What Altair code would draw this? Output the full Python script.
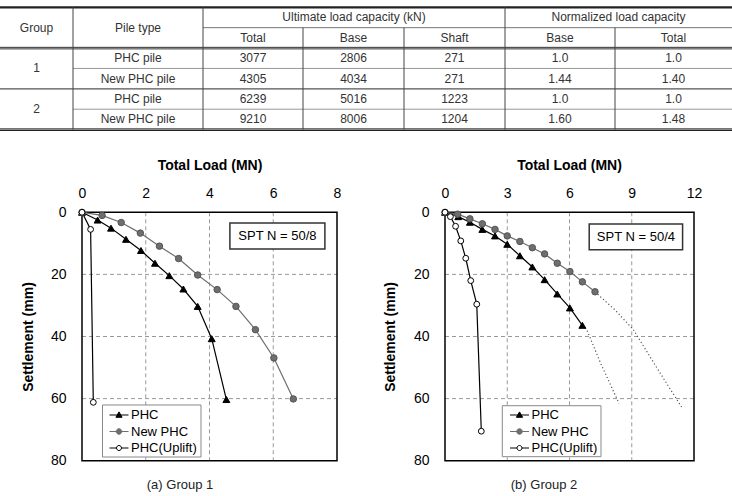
import altair as alt
import pandas as pd

FONT = "Liberation Sans"

# ---------------- table values ----------------
tbl_groups = ["1", "2"]
tbl_pile = ["PHC pile", "New PHC pile", "PHC pile", "New PHC pile"]
tbl_total = [3077, 4305, 6239, 9210]
tbl_base = [2806, 4034, 5016, 8006]
tbl_shaft = [271, 271, 1223, 1204]
tbl_nbase = ["1.0", "1.44", "1.0", "1.60"]
tbl_ntotal = ["1.0", "1.40", "1.0", "1.48"]
tbl_head = ["Group", "Pile type", "Ultimate load capacity (kN)", "Normalized load capacity"]
tbl_sub = ["Total", "Base", "Shaft", "Base", "Total"]

# ---------------- curve values (load MN, settlement mm) ----------------
series_names = ["PHC", "New PHC", "PHC(Uplift)"]

a_phc_load = [0, 0.49, 0.91, 1.38, 1.85, 2.29, 2.74, 3.18, 3.63, 4.07, 4.53]
a_phc_settle = [0, 2.5, 5.1, 8.7, 12.3, 16.4, 20.4, 24.7, 30.3, 40.7, 60.3]
a_new_load = [0, 0.63, 1.23, 1.83, 2.43, 3.03, 3.63, 4.24, 4.83, 5.44, 6.02, 6.63]
a_new_settle = [0, 1.0, 3.3, 6.7, 10.9, 14.9, 20.2, 24.9, 30.3, 37.8, 46.9, 60.1]
a_up_load = [0, 0.27, 0.355]
a_up_settle = [0, 5.5, 61.2]

b_phc_load = [0, 0.64, 1.2, 1.8, 2.41, 3.0, 3.61, 4.21, 4.8, 5.41, 6.02, 6.62]
b_phc_settle = [0, 1.4, 3.2, 5.5, 7.6, 10.3, 14.0, 17.6, 21.7, 26.3, 30.8, 36.4]
b_new_load = [0, 0.61, 1.2, 1.8, 2.41, 3.0, 3.61, 4.21, 4.8, 5.41, 6.02, 6.62, 7.23]
b_new_settle = [0, 0.6, 2.1, 3.7, 5.5, 7.6, 9.4, 11.4, 13.4, 16.4, 19.1, 22.4, 25.6]
b_up_load = [0, 0.26, 0.51, 0.76, 1.0, 1.24, 1.53, 1.75]
b_up_settle = [0, 1.4, 4.5, 9.2, 14.8, 22.0, 29.6, 70.5]
b_phc_ext_load = [6.62, 6.83, 7.5, 8.39]
b_phc_ext_settle = [36.4, 37.8, 48.6, 61.6]
b_new_ext_load = [7.23, 8.2, 9.08, 10.2, 11.4]
b_new_ext_settle = [25.6, 31.5, 37.8, 50.0, 62.7]

a_ticks = [0, 2, 4, 6, 8]
b_ticks = [0, 3, 6, 9, 12]
y_ticks = [0, 20, 40, 60, 80]
a_label = "SPT N = 50/8"
b_label = "SPT N = 50/4"
a_caption = "(a) Group 1"
b_caption = "(b) Group 2"

# ---------------- layout (pixels / positions) ----------------
COL = [0, 73, 203, 303, 404, 505, 615, 732]
T_SCALE_X = alt.Scale(domain=[0, 732], range=[0, 732], nice=False, zero=False)
T_SCALE_Y = alt.Scale(domain=[0, 6], range=[7.3, 129.6], nice=False, zero=False)
PLOT_Y = [212.3, 460.7]
A_X = [82, 337]
B_X = [445, 694]
LEG_ROWS_Y = [408.5, 425.0, 441.5]

GRAY = "#6e6e6e"

# ---------------- table ----------------
def mid(i, j):
    return (COL[i] + COL[j]) / 2

cells = []
cells.append((mid(0, 1), 1.0, tbl_head[0]))
cells.append((mid(1, 2), 1.0, tbl_head[1]))
cells.append((mid(2, 5), 0.5, tbl_head[2]))
cells.append((mid(5, 7), 0.5, tbl_head[3]))
for k, s in enumerate(tbl_sub):
    cells.append((mid(2 + k, 3 + k), 1.5, s))
for g, lab in enumerate(tbl_groups):
    cells.append((mid(0, 1), 3 + 2 * g, lab))
for r in range(4):
    row = [tbl_pile[r], str(tbl_total[r]), str(tbl_base[r]), str(tbl_shaft[r]),
           tbl_nbase[r], tbl_ntotal[r]]
    for c, v in enumerate(row):
        cells.append((mid(1 + c, 2 + c), 2.5 + r, v))
cell_df = pd.DataFrame(cells, columns=["cx", "cy", "txt"])

rules = [
    (0, 732, 0, 0, 2.2, "#222"),
    (203, 732, 1, 1, 1, "#777"),
    (0, 732, 1.965, 1.965, 1, "#333"),
    (0, 732, 2.04, 2.04, 1, "#333"),
    (73, 732, 3, 3, 1, "#999"),
    (0, 732, 4, 4, 1.2, "#555"),
    (73, 732, 5, 5, 1, "#999"),
    (0, 732, 5.965, 5.965, 1, "#222"),
    (0, 732, 6.04, 6.04, 1.2, "#222"),
    (73, 73, 0, 6, 1, "#444"),
    (203, 203, 0, 6, 1, "#444"),
    (303, 303, 1, 6, 1, "#444"),
    (404, 404, 1, 6, 1, "#444"),
    (505, 505, 0, 6, 1, "#444"),
    (615, 615, 1, 6, 1, "#444"),
]
rule_df = pd.DataFrame(rules, columns=["x1", "x2", "y1", "y2", "w", "c"])

table_rules = alt.Chart(rule_df).mark_rule().encode(
    x=alt.X("x1:Q", scale=T_SCALE_X, axis=None),
    x2="x2:Q",
    y=alt.Y("y1:Q", scale=T_SCALE_Y, axis=None),
    y2="y2:Q",
    strokeWidth=alt.StrokeWidth("w:Q", scale=None),
    color=alt.Color("c:N", scale=None),
)
table_text = alt.Chart(cell_df).mark_text(
    font=FONT, fontSize=12, color="#333", align="center", baseline="middle"
).encode(
    x=alt.X("cx:Q", scale=T_SCALE_X, axis=None),
    y=alt.Y("cy:Q", scale=T_SCALE_Y, axis=None),
    text="txt:N",
)

# ---------------- panels ----------------
def df_of(load, settle):
    return pd.DataFrame({"load": load, "settle": settle, "i": list(range(len(load)))})


# legend symbol paths: line through marker (5 px per unit at symbolSize 100)
TRI = "M-1.9,0H1.9M0,-0.62L0.62,0.46L-0.62,0.46Z"
DOT = "M-1.9,0H1.9M-0.55,0A0.55,0.55 0 1,0 0.55,0A0.55,0.55 0 1,0 -0.55,0Z"
RING = "M-1.9,0H-0.5M0.5,0H1.9M-0.5,0A0.5,0.5 0 1,0 0.5,0A0.5,0.5 0 1,0 -0.5,0Z"


def panel(xmax, xrange, ticks, curves, exts, spt_text, spt_box, caption,
          title_x, ytitle_x, caption_x, legend_x, legend_box):
    xs = alt.Scale(domain=[0, xmax], range=xrange, nice=False, zero=False)
    ys = alt.Scale(domain=[0, 80], range=PLOT_Y, nice=False, zero=False)
    layers = []

    # grid
    vg = pd.DataFrame({"v": ticks[1:-1], "lo": 0, "hi": 80})
    hg = pd.DataFrame({"v": y_ticks[1:-1], "lo": 0, "hi": xmax})
    cap_axis = alt.Axis(orient="bottom", offset=PLOT_Y[1] - 496, labels=False, ticks=False,
                        domain=False, grid=False, title=caption, titleX=caption_x,
                        titleY=23.5, titleBaseline="middle", titleAlign="center",
                        titleFont=FONT, titleFontSize=13, titleFontWeight="normal",
                        titleColor="#222")
    layers.append(alt.Chart(vg).mark_rule(color="#999", strokeDash=[4, 3], strokeWidth=1).encode(
        x=alt.X("v:Q", scale=xs, axis=cap_axis),
        y=alt.Y("lo:Q", scale=ys, axis=None), y2="hi:Q"))
    layers.append(alt.Chart(hg).mark_rule(color="#999", strokeDash=[4, 3], strokeWidth=1).encode(
        y=alt.Y("v:Q", scale=ys, axis=None),
        x=alt.X("lo:Q", scale=xs, axis=None), x2="hi:Q"))

    # frame with axes
    fr = pd.DataFrame({"x0": [0], "x1": [xmax], "y0": [0], "y1": [80]})
    top_axis = alt.Axis(orient="top", offset=-PLOT_Y[0], values=ticks, ticks=False,
                        domain=False, grid=False, labelFlush=False, labelOverlap=False,
                        labelPadding=12, labelFont=FONT, labelFontSize=14,
                        labelColor="black", title="Total Load (MN)", titleFont=FONT,
                        titleFontSize=14, titleFontWeight="bold", titleColor="black",
                        titleX=title_x, titleY=165 - PLOT_Y[0], titleBaseline="middle",
                        titleAlign="center")
    left_axis = alt.Axis(orient="left", offset=-xrange[0], values=y_ticks, ticks=False,
                         domain=False, grid=False, labelFlush=False, labelOverlap=False,
                         labelPadding=16, labelFont=FONT, labelFontSize=14,
                         labelColor="black", title="Settlement (mm)", titleFont=FONT,
                         titleFontSize=14, titleFontWeight="bold", titleColor="black",
                         titleX=ytitle_x - xrange[0], titleY=(PLOT_Y[0] + PLOT_Y[1]) / 2,
                         titleBaseline="middle", titleAlign="center", titleAngle=270)
    layers.append(alt.Chart(fr).mark_rect(fillOpacity=0, stroke="black", strokeWidth=1.5).encode(
        x=alt.X("x0:Q", scale=xs, axis=top_axis), x2="x1:Q",
        y=alt.Y("y0:Q", scale=ys, axis=left_axis), y2="y1:Q"))

    # dotted extrapolations
    for (ld, st) in exts:
        layers.append(alt.Chart(df_of(ld, st)).mark_line(
            color="#555", strokeDash=[1.2, 2.4], strokeWidth=1.2).encode(
            x=alt.X("load:Q", scale=xs, axis=None),
            y=alt.Y("settle:Q", scale=ys, axis=None), order="i:Q"))

    styles = [
        dict(line="black", shape="triangle-up", fill="black", stroke="black", size=48, path=TRI),
        dict(line=GRAY, shape="circle", fill=GRAY, stroke="#555", size=42, path=DOT),
        dict(line="black", shape="circle", fill="white", stroke="black", size=34, path=RING),
    ]
    for (ld, st), sty in zip(curves, styles):
        d = df_of(ld, st)
        layers.append(alt.Chart(d).mark_line(color=sty["line"], strokeWidth=1.2).encode(
            x=alt.X("load:Q", scale=xs, axis=None),
            y=alt.Y("settle:Q", scale=ys, axis=None), order="i:Q"))
    for (ld, st), sty in zip(curves, styles):
        d = df_of(ld, st)
        layers.append(alt.Chart(d).mark_point(
            shape=sty["shape"], fill=sty["fill"], stroke=sty["stroke"], size=sty["size"],
            strokeWidth=1, opacity=1, fillOpacity=1).encode(
            x=alt.X("load:Q", scale=xs, axis=None),
            y=alt.Y("settle:Q", scale=ys, axis=None)))

    # annotation box
    bx = pd.DataFrame({"x0": [spt_box[0]], "x1": [spt_box[1]], "y0": [spt_box[2]],
                       "y1": [spt_box[3]], "t": [spt_text]})
    layers.append(alt.Chart(bx).mark_rect(fill="white", stroke="#333", strokeWidth=1.5).encode(
        x=alt.X("x0:Q", scale=xs, axis=None), x2="x1:Q",
        y=alt.Y("y0:Q", scale=ys, axis=None), y2="y1:Q"))
    bx["cx"] = (bx["x0"] + bx["x1"]) / 2
    bx["cy"] = (bx["y0"] + bx["y1"]) / 2
    layers.append(alt.Chart(bx).mark_text(font=FONT, fontSize=13, color="black",
                                          baseline="middle", align="center").encode(
        x=alt.X("cx:Q", scale=xs, axis=None),
        y=alt.Y("cy:Q", scale=ys, axis=None), text="t:N"))

    # legend frame
    lb = pd.DataFrame({"x0": [legend_box[0]], "x1": [legend_box[1]],
                       "y0": [legend_box[2]], "y1": [legend_box[3]]})
    layers.append(alt.Chart(lb).mark_rect(fill="white", stroke="#888", strokeWidth=1).encode(
        x=alt.X("x0:Q", scale=xs, axis=None), x2="x1:Q",
        y=alt.Y("y0:Q", scale=ys, axis=None), y2="y1:Q"))

    # legend entries: one single-entry legend per series
    for name, sty, ly in zip(series_names, styles, LEG_ROWS_Y):
        leg = alt.Legend(orient="none", legendX=legend_x, legendY=ly, title=None,
                         padding=0, symbolSize=100, symbolStrokeWidth=1, symbolOffset=0,
                         labelFont=FONT, labelFontSize=13, labelColor="black",
                         labelOffset=5.5)
        lg = pd.DataFrame({"s": [name], "load": [0], "settle": [0]})
        layers.append(alt.Chart(lg).mark_point(
            filled=True, fill=sty["fill"], stroke=sty["stroke"] if name != "New PHC" else GRAY,
            strokeWidth=1, opacity=0).encode(
            x=alt.X("load:Q", scale=xs, axis=None),
            y=alt.Y("settle:Q", scale=ys, axis=None),
            shape=alt.Shape("s:N", scale=alt.Scale(domain=[name], range=[sty["path"]]),
                            legend=leg),
        ))
    return layers


a_layers = panel(8, A_X, a_ticks,
                 [(a_phc_load, a_phc_settle), (a_new_load, a_new_settle), (a_up_load, a_up_settle)],
                 [], a_label, [4.64, 7.62, 3.45, 11.8], a_caption,
                 209.5, 28, 179.5, 112.5, [0.643, 3.733, 62.06, 78.81])
b_layers = panel(12, B_X, b_ticks,
                 [(b_phc_load, b_phc_settle), (b_new_load, b_new_settle), (b_up_load, b_up_settle)],
                 [(b_phc_ext_load, b_phc_ext_settle), (b_new_ext_load, b_new_ext_settle)],
                 b_label, [6.95, 11.45, 3.8, 12.1], b_caption,
                 569, 390, 543.5, 513, [2.761, 7.518, 62.29, 78.71])

chart = alt.layer(table_rules, table_text, *a_layers, *b_layers).resolve_scale(
    x="independent", y="independent", shape="independent",
    color="independent", strokeWidth="independent"
).resolve_axis(x="independent", y="independent").resolve_legend(
    shape="independent"
).properties(
    width=732, height=496, padding=0, background="white",
    autosize=alt.AutoSizeParams(type="none"),
).configure_view(stroke="transparent")

chart.save("out.html", embed_options={"renderer": "svg", "actions": False})
